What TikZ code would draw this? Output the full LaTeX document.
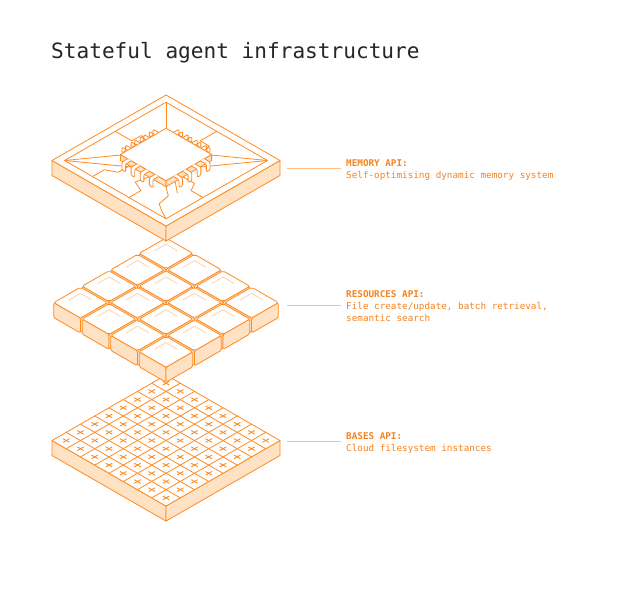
\documentclass[tikz,border=0pt]{standalone}
\usepackage{fontspec}
\setmonofont{DejaVu Sans Mono}
\usetikzlibrary{calc}
\definecolor{orng}{HTML}{FF8A1F}
\definecolor{side}{HTML}{FFE2C4}
\definecolor{faint}{HTML}{FFD6B3}
\definecolor{lead}{HTML}{FFBE85}
\definecolor{txt}{HTML}{F5831F}
\tikzset{
  edge/.style={draw=orng, line width=0.8pt, line join=round},
  sideface/.style={edge, fill=side},
  topface/.style={edge, fill=white},
  pin/.style={edge, fill=white, rounded corners=1.2pt},
  leader/.style={draw=lead, line width=0.8pt},
  head/.style={anchor=base west, inner sep=0pt, text=txt, font=\ttfamily\bfseries\fontsize{9.3}{11}\selectfont},
  body/.style={anchor=base west, inner sep=0pt, text=txt, font=\ttfamily\fontsize{9.3}{11}\selectfont},
}
\begin{document}
\begin{tikzpicture}[x={(1pt,0pt)}, y={(0pt,-1pt)}]
\useasboundingbox[fill=white] (0,0) rectangle (629,600);

%background dots
\foreach \x in {4,12,...,628} \foreach \y in {4,12,...,596}
  \fill[black!6] (\x,\y) circle (0.45pt);

%title
\node[anchor=base west, inner sep=0pt, text=black!85, font=\ttfamily\fontsize{21.1}{24}\selectfont] (title) at (51,58) {Stateful agent infrastructure};

%bases layer
\begin{scope}[shift={(166,375)}, x={(14.25pt,-8.19pt)}, y={(-14.25pt,-8.19pt)}]
\draw[sideface] (0,8) -- (8,8) -- ([yshift=-15pt]8,8) -- ([yshift=-15pt]0,8) -- cycle;
\draw[sideface] (8,8) -- (8,0) -- ([yshift=-15pt]8,0) -- ([yshift=-15pt]8,8) -- cycle;
\draw[topface] (0,0) -- (8,0) -- (8,8) -- (0,8) -- cycle;
\foreach \i in {1,...,7} {
  \draw[edge] (\i,0) -- (\i,8);
  \draw[edge] (0,\i) -- (8,\i);
}
\foreach \i in {0,...,7} \foreach \j in {0,...,7} {
  \draw[orng, line width=0.9pt] ($(\i+.5,\j+.5)+(-3.2pt,-1.8pt)$) -- ++(6.4pt,3.6pt);
  \draw[orng, line width=0.9pt] ($(\i+.5,\j+.5)+(-3.2pt,1.8pt)$) -- ++(6.4pt,-3.6pt);
}
\end{scope}

%resources layer
\begin{scope}[shift={(166,237)}, x={(28.5pt,-16.4pt)}, y={(-28.5pt,-16.4pt)}]
\foreach \s in {0,...,6} \foreach \i in {0,...,3} {
  \pgfmathtruncatemacro{\j}{\s-\i}
  \ifnum\j>-1 \ifnum\j<4
    \draw[sideface, rounded corners=1.5pt] (\i+.03,\j+.97) -- (\i+.97,\j+.97) -- ([yshift=-15pt]\i+.97,\j+.97) -- ([yshift=-15pt]\i+.03,\j+.97) -- cycle;
    \draw[sideface, rounded corners=1.5pt] (\i+.97,\j+.97) -- (\i+.97,\j+.03) -- ([yshift=-15pt]\i+.97,\j+.03) -- ([yshift=-15pt]\i+.97,\j+.97) -- cycle;
    \draw[topface, rounded corners=2pt] (\i+.03,\j+.03) -- (\i+.97,\j+.03) -- (\i+.97,\j+.97) -- (\i+.03,\j+.97) -- cycle;
    \draw[faint, line width=0.9pt] (\i+.22,\j+.62) -- (\i+.22,\j+.22) -- (\i+.62,\j+.22);
  \fi\fi
}
\end{scope}

%memory layer
\begin{scope}[shift={(166,95)}, x={(114pt,-65.5pt)}, y={(-114pt,-65.5pt)}]
\draw[sideface] (0,1) -- (1,1) -- ([yshift=-15pt]1,1) -- ([yshift=-15pt]0,1) -- cycle;
\draw[sideface] (1,1) -- (1,0) -- ([yshift=-15pt]1,0) -- ([yshift=-15pt]1,1) -- cycle;
\draw[topface] (0,0) -- (1,0) -- (1,1) -- (0,1) -- cycle;
\draw[edge] (.055,.055) -- (.945,.055) -- (.945,.945) -- (.055,.945) -- cycle;
% traces
\draw[edge] (.055,.055) -- (.3,.3);
\draw[edge] (.055,.945) -- (.3,.6);
\draw[edge] (.055,.945) -- (.4,.7);
\draw[edge] (.945,.055) -- (.6,.3);
\draw[edge] (.945,.055) -- (.7,.4);
\draw[edge] (.055,.5) -- (.2,.5) -- (.2,.42) -- (.3,.42);
\draw[edge] (.5,.055) -- (.5,.2) -- (.58,.2) -- (.58,.3);
\draw[edge] (.945,.62) -- (.84,.62) -- (.8,.55) -- (.7,.55);
\draw[edge] (.62,.945) -- (.62,.84) -- (.53,.8) -- (.55,.7);
\draw[edge] (.7,.7) -- (.78,.76) -- (.8,.86) -- (.86,.9) -- (.945,.945);
\draw[edge] (.7,.62) -- (.8,.7);
\draw[edge] (.38,.7) -- (.38,.8) -- (.3,.84) -- (.3,.945);
% back pins
\foreach \t in {.38,.46,.54,.62} {
  \draw[pin] ([yshift=6pt]\t-.016,.3) -- ([yshift=6pt]\t-.016,.25) -- ([yshift=0pt]\t-.016,.25) -- ([yshift=0pt]\t+.016,.25) -- ([yshift=6pt]\t+.016,.25) -- ([yshift=6pt]\t+.016,.3);
  \draw[pin] ([yshift=6pt].3,\t-.016) -- ([yshift=6pt].25,\t-.016) -- ([yshift=0pt].25,\t-.016) -- ([yshift=0pt].25,\t+.016) -- ([yshift=6pt].25,\t+.016) -- ([yshift=6pt].3,\t+.016);
}
% chip
\draw[sideface] (.3,.7) -- (.7,.7) -- ([yshift=6pt].7,.7) -- ([yshift=6pt].3,.7) -- cycle;
\draw[sideface] (.7,.7) -- (.7,.3) -- ([yshift=6pt].7,.3) -- ([yshift=6pt].7,.7) -- cycle;
\draw[topface] ([yshift=6pt].3,.3) -- ([yshift=6pt].7,.3) -- ([yshift=6pt].7,.7) -- ([yshift=6pt].3,.7) -- cycle;
% front pins
\foreach \t in {.38,.46,.54,.62} {
  \draw[pin] ([yshift=6pt]\t-.016,.7) -- ([yshift=6pt]\t-.016,.75) -- ([yshift=-2pt]\t-.016,.75) -- ([yshift=-2pt]\t+.016,.75) -- ([yshift=6pt]\t+.016,.75) -- ([yshift=6pt]\t+.016,.7);
  \draw[pin] ([yshift=6pt].7,\t-.016) -- ([yshift=6pt].75,\t-.016) -- ([yshift=-2pt].75,\t-.016) -- ([yshift=-2pt].75,\t+.016) -- ([yshift=6pt].75,\t+.016) -- ([yshift=6pt].7,\t+.016);
}
\end{scope}

%labels
\node[head] (memH) at (346,166) {MEMORY API:};
\node[body] (memT) at (346,178) {Self-optimising dynamic memory system};
\coordinate (memL) at (341,168);
\coordinate (memR) at (287,168);
\draw[leader] (memR) -- (memL);

\node[head] (resH) at (346,297) {RESOURCES API:};
\node[body] (resT) at (346,309) {File create/update, batch retrieval,};
\node[body] (resT2) at (346,321) {semantic search};
\coordinate (resL) at (341,305);
\coordinate (resR) at (287,305);
\draw[leader] (resR) -- (resL);

\node[head] (basH) at (346,439) {BASES API:};
\node[body] (basT) at (346,451) {Cloud filesystem instances};
\coordinate (basL) at (341,441);
\coordinate (basR) at (287,441);
\draw[leader] (basR) -- (basL);
\end{tikzpicture}
\end{document}
